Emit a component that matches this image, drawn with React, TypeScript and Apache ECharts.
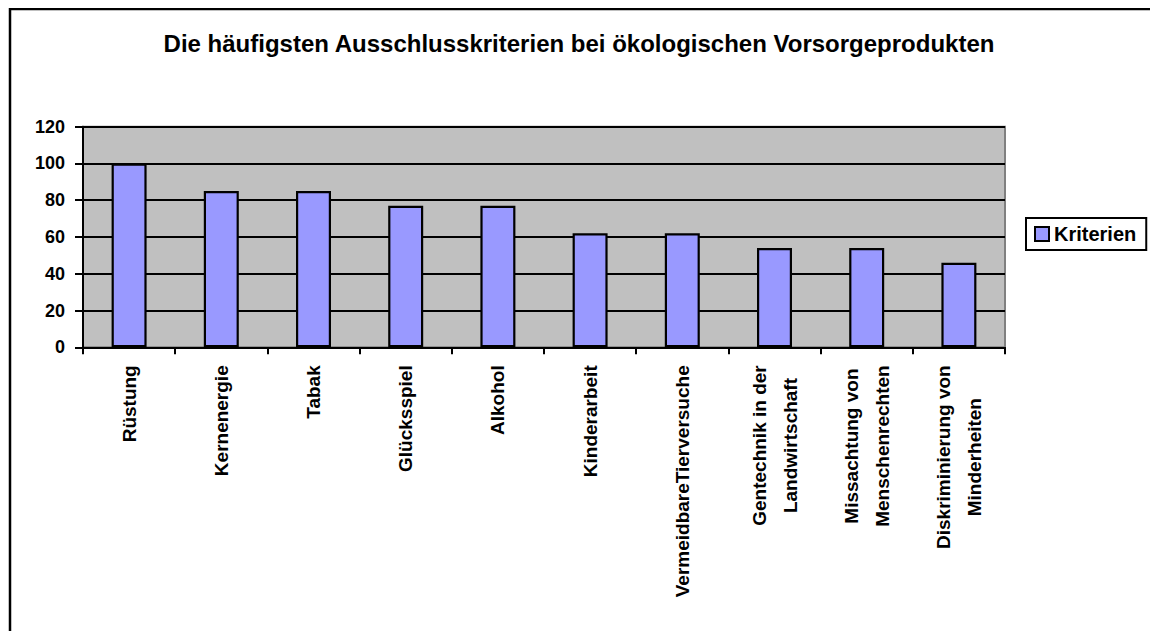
import React, { useEffect, useRef } from "react";
import * as echarts from "echarts";

const titleText = "Die häufigsten Ausschlusskriterien bei ökologischen Vorsorgeprodukten";
const seriesName = "Kriterien";
const categories = [
  "Rüstung",
  "Kernenergie",
  "Tabak",
  "Glücksspiel",
  "Alkohol",
  "Kinderarbeit",
  "VermeidbareTierversuche",
  "Gentechnik in der\nLandwirtschaft",
  "Missachtung von\nMenschenrechten",
  "Diskriminierung von\nMinderheiten",
];
const values = [100, 85, 85, 77, 77, 62, 62, 54, 54, 46];
const yMin = 0;
const yMax = 120;
const yInterval = 20;

const FONT = "'Liberation Sans', Arial, Helvetica, sans-serif";

export default function App() {
  const ref = useRef<HTMLDivElement>(null);

  useEffect(() => {
    if (!ref.current) return;
    const chart = echarts.init(ref.current, undefined, { renderer: "svg" });
    chart.setOption({
      animation: false,
      backgroundColor: "#ffffff",
      title: {
        text: titleText,
        left: "center",
        top: 18,
        textStyle: {
          fontFamily: FONT,
          fontSize: 24,
          fontWeight: "bold",
          color: "#000000",
        },
      },
      graphic: [
        {
          type: "polyline",
          silent: true,
          z: -10,
          shape: {
            points: [
              [2, 700],
              [2, 1],
              [1200, 1],
            ],
          },
          style: { fill: "none", stroke: "#000000", lineWidth: 2.5 },
        },
      ],
      legend: {
        data: [seriesName],
        left: 1018,
        top: 210,
        orient: "vertical",
        backgroundColor: "#ffffff",
        borderColor: "#000000",
        borderWidth: 2,
        borderRadius: 0,
        padding: [6, 10, 6, 8],
        itemWidth: 14,
        itemHeight: 14,
        icon: "rect",
        itemStyle: { borderColor: "#000000", borderWidth: 2 },
        textStyle: {
          fontFamily: FONT,
          fontSize: 20,
          fontWeight: "bold",
          color: "#000000",
        },
      },
      grid: {
        left: 75,
        top: 118.7,
        width: 922,
        height: 220.6,
        show: true,
        backgroundColor: "#C0C0C0",
        borderColor: "#808080",
        borderWidth: 2,
        containLabel: false,
      },
      xAxis: {
        type: "category",
        data: categories,
        boundaryGap: true,
        axisLine: { show: true, lineStyle: { color: "#000000", width: 2 } },
        axisTick: {
          show: true,
          alignWithLabel: false,
          length: 7,
          lineStyle: { color: "#000000", width: 2 },
        },
        axisLabel: {
          interval: 0,
          rotate: 90,
          margin: 18,
          color: "#000000",
          fontFamily: FONT,
          fontSize: 19,
          fontWeight: "bold",
          formatter: (v: string) =>
            v
              .split("\n")
              .map((l) => `{c|${l}}`)
              .join("\n"),
          rich: {
            c: {
              align: "center",
              fontFamily: FONT,
              fontSize: 19,
              fontWeight: "bold",
              color: "#000000",
              lineHeight: 31,
            },
          },
        },
        splitLine: { show: false },
      },
      yAxis: {
        type: "value",
        min: yMin,
        max: yMax,
        interval: yInterval,
        axisLine: { show: true, lineStyle: { color: "#000000", width: 2 } },
        axisTick: {
          show: true,
          length: 8,
          lineStyle: { color: "#000000", width: 2 },
        },
        axisLabel: {
          margin: 18,
          color: "#000000",
          fontFamily: FONT,
          fontSize: 18,
          fontWeight: "bold",
        },
        splitLine: { show: true, lineStyle: { color: "#000000", width: 1.8 } },
      },
      series: [
        {
          name: seriesName,
          type: "bar",
          data: values,
          barWidth: 35,
          itemStyle: {
            color: "#9999FF",
            borderColor: "#000000",
            borderWidth: 2.2,
          },
        },
      ],
    });
    return () => chart.dispose();
  }, []);

  return (
    <div
      ref={ref}
      style={{ position: "fixed", left: 8, top: 8, width: 1142, height: 623 }}
    />
  );
}
